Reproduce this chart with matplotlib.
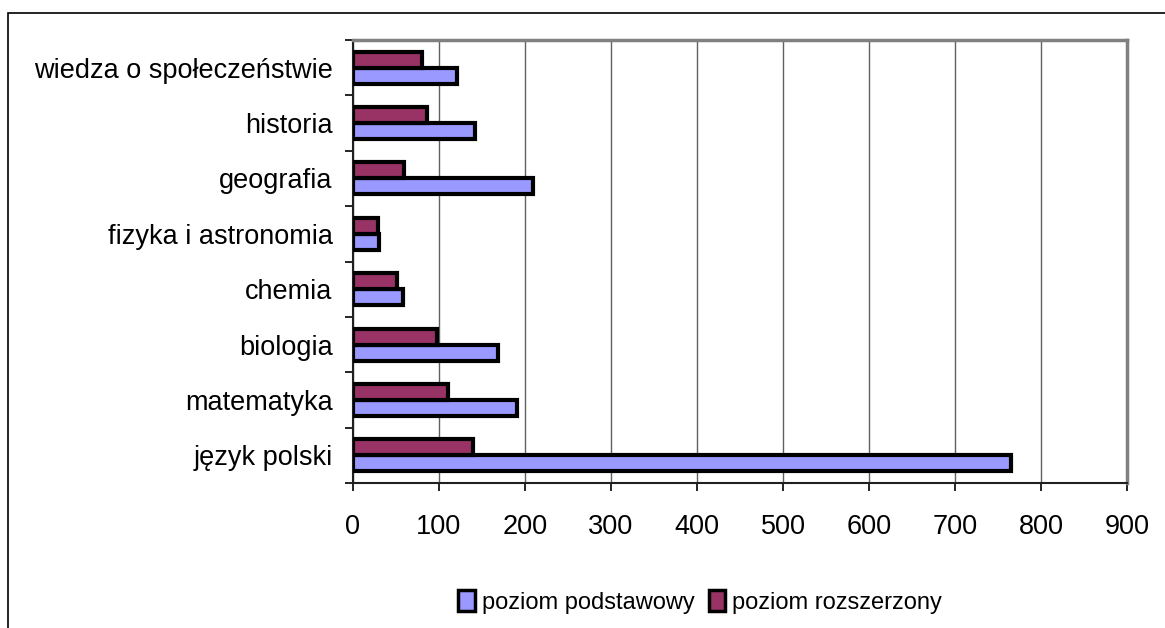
import numpy as np
import matplotlib.pyplot as plt
from matplotlib.patches import Rectangle, Patch

plt.rcParams['font.family'] = ['Liberation Sans', 'DejaVu Sans']

# categories listed bottom to top
subjects = ['język polski', 'matematyka', 'biologia', 'chemia',
            'fizyka i astronomia', 'geografia', 'historia',
            'wiedza o społeczeństwie']
podstawowy = [765, 191, 169, 58, 31, 209, 142, 121]
rozszerzony = [140, 111, 98, 51, 29, 60, 86, 80]
xticks = [0, 100, 200, 300, 400, 500, 600, 700, 800, 900]

fig = plt.figure(figsize=(11.65, 6.28), dpi=100)
ax = fig.add_axes([352.7/1165, 1-483/628, (1127.3-352.7)/1165, (483-40)/628])

# outer chart frame
fig.patches.append(Rectangle((8/1165, -0.1), 1.2, 1-13/628+0.1, transform=fig.transFigure,
                             fill=False, edgecolor='black', linewidth=1.2, zorder=0))

y = np.arange(len(subjects)) + 0.5
h = 0.29
ax.barh(y - h/2, podstawowy, height=h, color='#9999FF', edgecolor='black', linewidth=3.0, zorder=3)
ax.barh(y + h/2, rozszerzony, height=h, color='#993366', edgecolor='black', linewidth=3.0, zorder=3)

ax.set_xlim(0, 900)
ax.set_ylim(0, len(subjects))
ax.set_xticks(xticks)
ax.set_xticklabels([str(v) for v in xticks], fontsize=19.5)
ax.set_yticks(np.arange(len(subjects) + 1))
ax.set_yticklabels([])
ax.set_yticks(y, minor=True)
ax.set_yticklabels(subjects, minor=True, fontsize=19.5)
ax.tick_params(axis='y', which='minor', length=0, pad=14.5)
ax.tick_params(axis='y', which='major', length=6, width=1.2, direction='out')
ax.tick_params(axis='x', length=6, width=1.2, direction='out', pad=16)

ax.grid(axis='x', color='#606060', linewidth=1.0, zorder=0)
ax.set_axisbelow(True)
for s in ['top', 'right']:
    ax.spines[s].set_color('#808080')
    ax.spines[s].set_linewidth(2.5)
for s in ['left', 'bottom']:
    ax.spines[s].set_color('#202020')
    ax.spines[s].set_linewidth(1.5)

handles = [Patch(facecolor='#9999FF', edgecolor='black', linewidth=2.5),
           Patch(facecolor='#993366', edgecolor='black', linewidth=2.5)]
fig.legend(handles, ['poziom podstawowy', 'poziom rozszerzony'], loc='center',
           bbox_to_anchor=(700/1165, 1-602/628), ncol=2, frameon=False, fontsize=17,
           handlelength=0.7, handleheight=1.0, handletextpad=0.3, columnspacing=0.6)

fig.savefig('out.png', dpi=100)
